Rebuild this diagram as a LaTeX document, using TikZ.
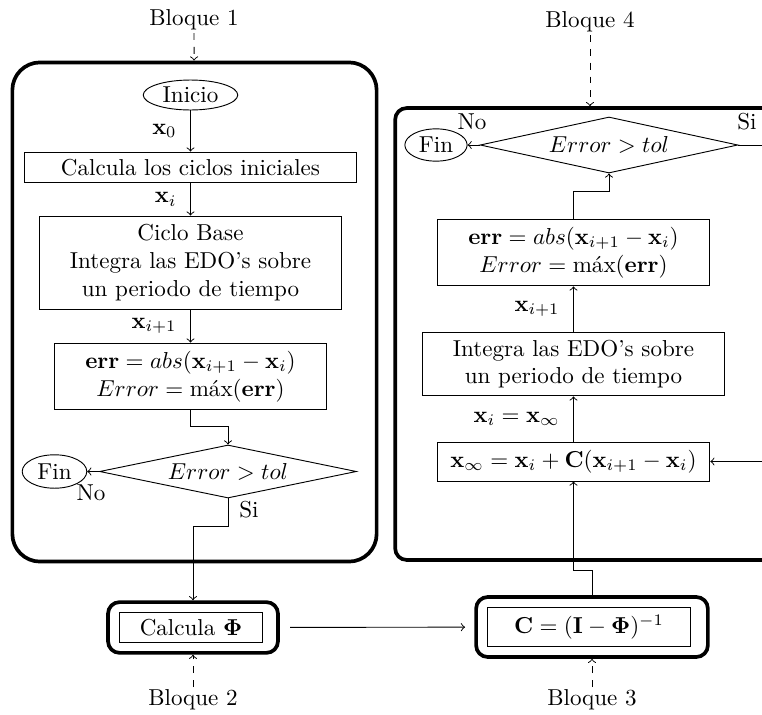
\documentclass[tikz,border=0pt]{standalone}
\usetikzlibrary{shapes.geometric}
\tikzset{
  caja/.style={draw,rectangle,align=center,inner sep=2pt},
  elip/.style={draw,ellipse,inner sep=1pt},
  rombo/.style={draw,diamond,aspect=4.8,inner sep=0pt},
  bloque/.style={draw,line width=1.6pt},
  marco/.style={draw,line width=1.6pt,rounded corners=5pt},
  etiq/.style={inner sep=1pt},
  xlab/.style={left,xshift=-2.5pt}
}
\begin{document}
\begin{tikzpicture}[x=0.01524cm,y=-0.01524cm]
      \useasboundingbox (0,0) rectangle (762,715);
      % bloque 1
      \node[etiq](B1) at (194,20) {Bloque 1};
      \node[bloque,rounded corners=12pt,minimum width=158pt,minimum height=216.5pt](L) at (194.5,312) {};
      \node[elip,minimum width=41pt,minimum height=13pt](ini) at (190.5,95) {Inicio};
      \node[caja,minimum width=144.3pt,minimum height=13.4pt](calc) at (190.5,167.5) {Calcula los ciclos iniciales};
      \node[caja,minimum width=130.9pt,minimum height=40.3pt](ciclo) at (190.5,262.5) {Ciclo Base\\Integra las EDO's sobre\\un periodo de tiempo};
      \node[caja,minimum width=118pt,minimum height=29pt](err1) at (190.5,376.5) {$\mathbf{err}=abs(\mathbf{x}_{i+1}-\mathbf{x}_i)$\\$Error=\mbox{máx}(\mathbf{err})$};
      \node[rombo,minimum width=111.4pt,minimum height=23pt](dec1) at (228,471.5) {$Error>tol$};
      \node[elip,minimum width=28pt,minimum height=14.5pt](fin1) at (54.5,471.5) {Fin};
      \node(no1) at (91,493) {No};
      \node(si1) at (249,510) {Si};
      \draw[->,dashed](B1)--(L);
      \draw[->](ini)--node[xlab]{$\mathbf{x}_0$}(calc);
      \draw[->](calc)--node[xlab]{$\mathbf{x}_i$}(ciclo);
      \draw[->](ciclo)--node[xlab]{$\mathbf{x}_{i+1}$}(err1);
      \draw[->](err1.south)--++(0,16)-|(dec1.north);
      \draw[->](dec1.west)--(fin1);
      % bloque 2
      \node[marco,minimum width=73.7pt,minimum height=22pt](PhiM) at (193,627.5) {};
      \node[caja,minimum width=62pt,minimum height=13.4pt](Phi) at (191,627.5) {Calcula $\mathbf{\Phi}$};
      \node[etiq](B2) at (193,700) {Bloque 2};
      \draw[->](dec1.south)--++(0,28)-|(PhiM.north);
      \draw[->,dashed](B2)--(PhiM);
      % bloque 3
      \node[marco,minimum width=100.5pt,minimum height=26pt](CM) at (592,627) {};
      \node[caja,minimum width=88.4pt,minimum height=17.3pt](C) at (589,627) {$\mathbf{C}=(\mathbf{I}-\mathbf{\Phi})^{-1}$};
      \node[etiq](B3) at (592,700) {Bloque 3};
      \draw[->,shorten <=4.5pt,shorten >=4pt](PhiM)--(CM);
      \draw[->,dashed](B3)--(CM);
      % bloque 4
      \node[etiq](B4) at (590,22) {Bloque 4};
      \node[bloque,rounded corners=5pt,minimum width=169pt,minimum height=196pt](R) at (590,334) {};
      \node[rombo,minimum width=111.8pt,minimum height=24.3pt](dec2) at (609,145) {$Error>tol$};
      \node[elip,minimum width=27pt,minimum height=14pt](fin2) at (436,145) {Fin};
      \node(no2) at (472,122) {No};
      \node(si2) at (747,122) {Si};
      \node[caja,minimum width=118.3pt,minimum height=29pt](err2) at (573.5,252.5) {$\mathbf{err}=abs(\mathbf{x}_{i+1}-\mathbf{x}_i)$\\$Error=\mbox{máx}(\mathbf{err})$};
      \node[caja,minimum width=130.9pt,minimum height=27.7pt](int) at (573.5,364) {Integra las EDO's sobre\\un periodo de tiempo};
      \node[caja,minimum width=118.3pt,minimum height=16.9pt](xinf) at (573.5,461.5) {$\mathbf{x}_\infty=\mathbf{x}_i+\mathbf{C}(\mathbf{x}_{i+1}-\mathbf{x}_i)$};
      \draw[->,dashed](B4)--(R);
      \draw[->](dec2.west)--(fin2);
      \draw[->](err2.north)--++(0,-27)-|(dec2.south);
      \draw[->](int)--node[xlab]{$\mathbf{x}_{i+1}$}(err2);
      \draw[->](xinf)--node[xlab]{$\mathbf{x}_i=\mathbf{x}_\infty$}(int);
      \draw[->](dec2.east)--++(34,0)|-(xinf.east);
      \draw[->](CM.north)--++(0,-25)-|(xinf.south);
    \end{tikzpicture}
\end{document}
